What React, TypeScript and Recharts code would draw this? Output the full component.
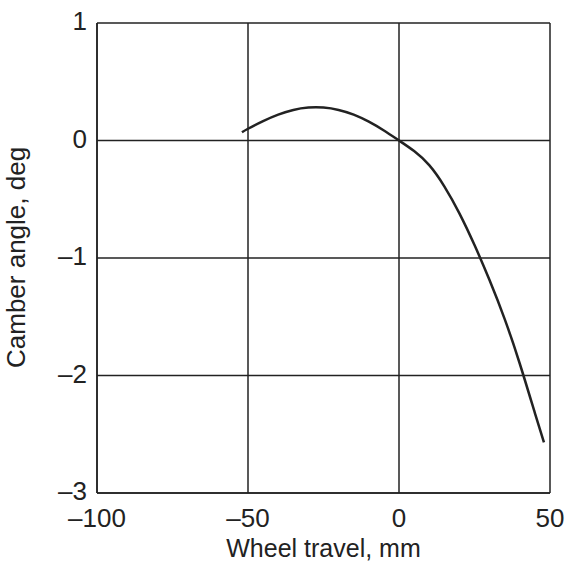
import { CartesianGrid, Line, LineChart, XAxis, YAxis } from "recharts";

const travel = [-52, -50, -45, -40, -35, -30, -25, -20, -15, -10, -5, 0, 5, 10, 15, 20, 25, 30, 35, 40, 45, 48];
const camber = [
  0.07, 0.1, 0.165, 0.22, 0.26, 0.28, 0.28, 0.26, 0.22, 0.16, 0.085, 0,
  -0.09, -0.21, -0.39, -0.62, -0.89, -1.19, -1.52, -1.9, -2.32, -2.57,
];
const xTicks = [-100, -50, 0, 50];
const yTicks = [1, 0, -1, -2, -3];

const data = travel.map((x, i) => ({ x, y: camber[i] }));

const fmt = (v: number) => String(v).replace("-", "\u2013");
const font = "Liberation Sans, Arial, sans-serif";

export default function App() {
  return (
    <div style={{ position: "absolute", left: 0, top: 0, background: "#fff" }}>
      <LineChart width={567} height={563} data={data} margin={{ top: 23, right: 17, left: 0, bottom: 0 }}>
        <CartesianGrid stroke="#222" strokeWidth={1.5} horizontal vertical />
        <XAxis
          type="number"
          dataKey="x"
          domain={[-100, 50]}
          ticks={xTicks}
          tickFormatter={fmt}
          tickLine={false}
          axisLine={{ stroke: "#222", strokeWidth: 1.5 }}
          height={70}
          tick={{ fill: "#222", fontSize: 26, fontFamily: font, dy: 8 }}
          label={{ value: "Wheel travel, mm", position: "insideBottom", offset: 6, fill: "#222", fontSize: 25, fontFamily: font }}
        />
        <YAxis
          type="number"
          dataKey="y"
          domain={[-3, 1]}
          ticks={yTicks}
          tickFormatter={fmt}
          tickLine={false}
          axisLine={{ stroke: "#222", strokeWidth: 1.5 }}
          width={97}
          tick={{ fill: "#222", fontSize: 26, fontFamily: font, dx: -2, dy: -2 }}
          label={{ value: "Camber angle, deg", angle: -90, position: "insideLeft", offset: 16, dy: 110, fill: "#222", fontSize: 26, fontFamily: font }}
        />
        <Line type="natural" dataKey="y" stroke="#222" strokeWidth={2.5} dot={false} isAnimationActive={false} />
      </LineChart>
    </div>
  );
}
